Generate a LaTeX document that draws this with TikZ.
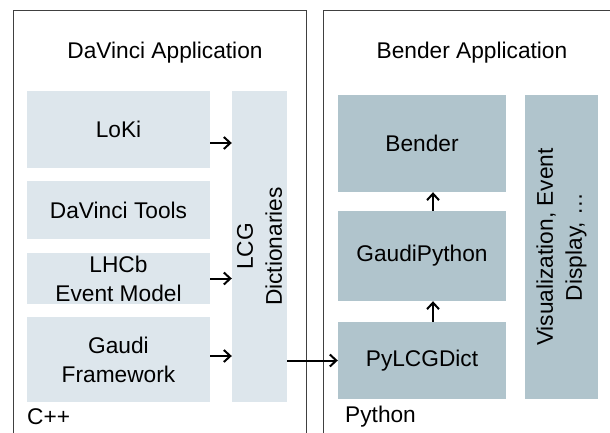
\documentclass[tikz,border=0pt]{standalone}
\usepackage{fontspec}
\setmainfont{Liberation Sans}
\usetikzlibrary{arrows.meta,positioning}

\tikzset{
  frame/.style={draw=black!75, line width=0.9pt},
  cbox/.style={fill=cppfill, inner sep=0pt, align=center, minimum width=183pt},
  pbox/.style={fill=pyfill, inner sep=0pt, align=center, minimum width=168pt},
  arr/.style={-{Straight Barb[length=6.5pt,width=12pt,line width=2pt]}, line width=2pt}
}
\definecolor{cppfill}{RGB}{221,230,236}
\definecolor{pyfill}{RGB}{176,196,204}

\begin{document}
\begin{tikzpicture}[x=1pt,y=-1pt,font=\fontsize{22.7}{29}\selectfont]
                    \useasboundingbox (0,0) rectangle (610,432);
                    \clip (0,0) rectangle (610,432);

                    % the two applications
                    \draw [frame] (13,10) rectangle (306,450);
                    \draw [frame] (323,10) rectangle (630,450);
                    \node (dvtitle) at (165,53) {DaVinci Application};
                    \node (bdtitle) at (472,53) {Bender Application};
                    \node (cpp) [anchor=west, inner sep=0pt] at (27,417) {C++};
                    \node (py) [anchor=west, inner sep=0pt] at (345,417) {Python};

                    % C++ side
                    \node (loki) [cbox, minimum height=77pt] at (118.5,129.5) {LoKi};
                    \node (tools) [cbox, minimum height=58pt] at (118.5,210) {DaVinci Tools};
                    \node (lhcb) [cbox, minimum height=51pt] at (118.5,278.5) {LHCb\\Event Model};
                    \node (gaudi) [cbox, minimum height=85pt] at (118.5,359.5) {Gaudi\\Framework};
                    \node (lcg) [fill=cppfill, inner sep=0pt, align=center, minimum width=311pt,
                                 minimum height=55pt, rotate=90] at (259.5,246.5) {LCG\\Dictionaries};

                    % Python side
                    \node (bender) [pbox, minimum height=97pt] at (422,143.5) {Bender};
                    \node (gpython) [pbox, minimum height=90pt] at (422,256) {GaudiPython};
                    \node (pylcg) [pbox, minimum height=77pt] at (422,360.5) {PyLCGDict};
                    \node (vis) [fill=pyfill, inner sep=0pt, align=center, minimum width=304pt,
                                 minimum height=73pt, rotate=90] at (561.5,247) {Visualization, Event\\Display, \dots};

                    \draw [arr] ([yshift=-13.5pt]loki.east) -- ([yshift=-13.5pt]loki.east -| lcg.north);
                    \draw [arr] (lhcb.east) -- (lhcb.east -| lcg.north);
                    \draw [arr] ([yshift=3.5pt]gaudi.east) -- ([yshift=3.5pt]gaudi.east -| lcg.north);
                    \draw [arr] (lcg.south |- pylcg.west) -- (pylcg.west);
                    \draw [arr] ([xshift=11pt]pylcg.north) -- ([xshift=11pt]gpython.south);
                    \draw [arr] ([xshift=11pt]gpython.north) -- ([xshift=11pt]bender.south);
                \end{tikzpicture}
\end{document}
